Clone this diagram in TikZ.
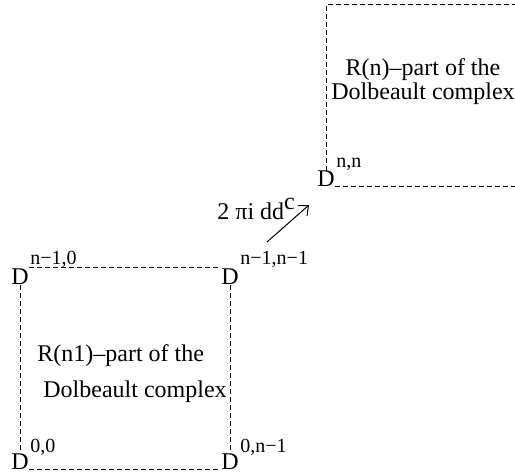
\documentclass[tikz,border=0pt]{standalone}
\usepackage{fontspec}
\setmainfont{Liberation Serif}
\usetikzlibrary{positioning,arrows.meta}

\begin{document}
\begin{tikzpicture}[>={Straight Barb[length=4pt,width=7pt]}, x=0.5pt, y=-0.5pt,
	dline/.style={dash pattern=on 2.5pt off 1.5pt, line width=0.5pt},
	dnode/.style={inner sep=0pt, anchor=base, font=\fontsize{12}{12}\selectfont},
	idx/.style={inner sep=0pt, anchor=base west, font=\fontsize{10}{12}\selectfont},
	txt/.style={inner sep=0pt, font=\fontsize{12}{12}\selectfont}]
	
	% 0. Khung
	\useasboundingbox (0,0) rectangle (515,476);
	
	% 1. Các đỉnh D
	\node[dnode] (d00) at (20,469) {D};
	\node[dnode] (d0m) at (230,469) {D};
	\node[dnode] (dm0) at (20,285) {D};
	\node[dnode] (dmm) at (230,285) {D};
	\node[dnode] (dnn) at (326,187) {D};
	
	% chỉ số trên
	\node[idx] (d00i) at ([xshift=0.5pt,yshift=8.5pt]d00.base east) {0,0};
	\node[idx] (d0mi) at ([xshift=0.5pt,yshift=8.5pt]d0m.base east) {0,n−1};
	\node[idx] (dm0i) at ([xshift=0.5pt,yshift=10pt]dm0.base east) {n−1,0};
	\node[idx] (dmmi) at ([xshift=0.5pt,yshift=10pt]dmm.base east) {n−1,n−1};
	\node[idx] (dnni) at ([xshift=0.5pt,yshift=9.5pt]dnn.base east) {n,n};
	
	% 2. Khung dưới
	\draw[dline] (dm0.south) -- (d00.north);
	\draw[dline] ([yshift=0.5pt]dm0.north east) -- ([yshift=0.5pt]dmm.north west);
	\draw[dline] (d00.base east) -- (d0m.base west);
	\draw[dline] (dmm.south) -- (d0m.north);
	
	% 3. Khung trên (hở bên phải)
	\coordinate (ul) at (326,5);
	\coordinate (ur) at (515,5);
	\coordinate (lr) at (515,187);
	\draw[dline] (dnn.north) -- (ul) -- (ur);
	\draw[dline] (dnn.base east) -- (lr);
	
	% 4. Mũi tên
	\coordinate (ddA) at (267,242);
	\coordinate (ddB) at (309,205);
	\draw[->, line width=0.5pt] (ddA) -- (ddB);
	\node[txt, anchor=base west] (ddc) at (217,220) {2 πi dd\raisebox{5pt}{c}};
	
	% 5. Chữ trong khung
	\node[txt, align=center, anchor=base] (rn) at (423,100)
	{R(n)–part of the\\Dolbeault complex};
	\node[txt, align=left, anchor=base west] (rn1) at (37,397)
	{R(n1)–part of the\\[5.5pt]\hspace*{3pt}Dolbeault complex};
	
\end{tikzpicture}
\end{document}
